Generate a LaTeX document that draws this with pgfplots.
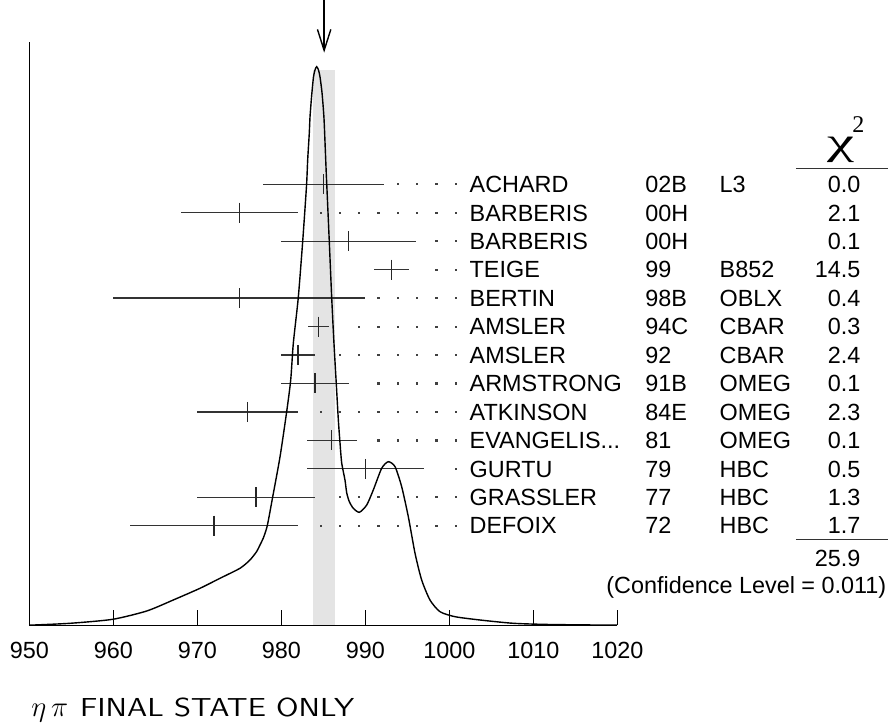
\documentclass[border=0pt]{standalone}
\usepackage{graphicx}
\usepackage{fontspec}
\setmainfont{Liberation Sans}
\newfontfamily\chifont{Liberation Serif}
\usepackage{pgfplots}
\pgfplotsset{compat=1.18}
\usetikzlibrary{arrows.meta}
\definecolor{band}{HTML}{E4E4E4}
\newcommand\lab{\fontsize{11.7}{14}\selectfont}
\begin{document}
\begin{tikzpicture}
\path[use as bounding box] (-14.65pt,-50.75pt) rectangle (429.35pt,312.75pt);
\begin{axis}[
  at={(0,0)}, anchor=south west,
  x=4.2pt, y=0.5pt,
  xmin=950, xmax=1020, ymin=0, ymax=583.5,
  enlargelimits=false, clip=false,
  axis lines=left,
  axis line style={-, line width=0.65pt},
  xtick={950,960,...,1020},
  ytick=\empty,
  tick align=inside,
  major tick length=7.5pt,
  xtick style={line width=0.6pt, black},
  /pgf/number format/assume math mode=true,
  /pgf/number format/1000 sep={},
  xticklabel style={font=\fontsize{11.7}{13}\selectfont, anchor=base, inner sep=0pt, yshift=-16.75pt},
]
% weighted average band
\addplot[fill=band, draw=none] coordinates {(983.8,0)(986.4,0)(986.4,555.5)(983.8,555.5)} -- cycle;

% dotted leaders
\addplot[only marks, mark=square*, mark size=0.3pt, black!75] coordinates {
(993.87,441.2)(996.17,441.2)(998.46,441.2)(1000.76,441.2)
(984.68,412.75)(986.98,412.75)(989.27,412.75)(991.57,412.75)(993.87,412.75)(996.17,412.75)(998.46,412.75)(1000.76,412.75)
(998.46,384.3)(1000.76,384.3)
(998.46,355.85)(1000.76,355.85)
(991.57,327.4)(993.87,327.4)(996.17,327.4)(998.46,327.4)(1000.76,327.4)
(989.27,298.95)(991.57,298.95)(993.87,298.95)(996.17,298.95)(998.46,298.95)(1000.76,298.95)
(986.98,270.5)(989.27,270.5)(991.57,270.5)(993.87,270.5)(996.17,270.5)(998.46,270.5)(1000.76,270.5)
(991.57,242.05)(993.87,242.05)(996.17,242.05)(998.46,242.05)(1000.76,242.05)
(984.68,213.6)(986.98,213.6)(989.27,213.6)(991.57,213.6)(993.87,213.6)(996.17,213.6)(998.46,213.6)(1000.76,213.6)
(991.57,185.15)(993.87,185.15)(996.17,185.15)(998.46,185.15)(1000.76,185.15)
(1000.76,156.7)
(986.98,128.25)(989.27,128.25)(991.57,128.25)(993.87,128.25)(996.17,128.25)(998.46,128.25)(1000.76,128.25)
(984.68,99.8)(986.98,99.8)(989.27,99.8)(991.57,99.8)(993.87,99.8)(996.17,99.8)(998.46,99.8)(1000.76,99.8)
};

% measurements
\addplot[only marks, mark=|, mark size=5pt, black!85, mark options={line width=0.65pt},
  error bars/.cd, x dir=both, x explicit, error mark=none,
  error bar style={line width=0.65pt, black!80}]
  table[x=m, y=y, x error=e] {
m y e
985.0 441.2 7.2
975.0 412.75 7.0
988.0 384.3 8.0
993.1 355.85 2.1
975.0 327.4 15.0
984.45 298.95 1.23
982.0 270.5 2.0
984.0 242.05 4.0
976.0 213.6 6.0
986.0 185.15 3.0
990.0 156.7 7.0
977.0 128.25 7.0
972.0 99.8 10.0
};

% ideogram curve
\addplot[line width=0.7pt, black, smooth, tension=0.4] coordinates {
(950.00,0.3)(954.85,2.2)(959.93,6.2)(963.98,14.5)(967.14,25.5)(970.32,37.2)
(972.70,47.2)(975.08,57.2)(976.27,65.5)(977.07,74)(977.46,80.5)(977.86,87.5)
(978.33,99.8)(978.98,128.8)(979.85,168.8)(980.64,213.8)(981.12,245.5)(981.43,282.2)
(982.02,327.8)(982.55,384.5)(983.00,439.5)(983.14,465.5)(983.33,492.2)(983.42,508.8)
(983.62,530.5)(983.83,548.5)(984.01,555.5)(984.21,558.8)(984.43,555.5)(984.61,548.5)
(984.85,532.5)(985.08,507.5)(985.24,475.5)(985.36,450.5)(985.42,439.5)(985.71,384.5)
(986.00,327.8)(986.27,282.2)(986.54,242.5)(986.79,205.5)(986.99,182.5)(987.19,162.5)
(987.58,145.5)(987.79,132.5)(988.10,123.8)(988.57,117.2)(989.29,113.2)(990.17,120.5)
(990.95,135.5)(991.95,157.2)(992.74,163.8)(993.54,158.8)(994.33,138.8)(995.12,108.8)
(995.92,72.2)(996.71,45.5)(997.70,25.5)(998.89,13.8)(1000.68,8.8)(1003.65,5.5)
(1007.62,2.2)(1011.99,1.0)(1019.96,0.3)
};

% average arrow
\addplot[line width=0.7pt, black, -{Straight Barb[length=10.5pt,width=6.7pt,line width=0.7pt]}]
  coordinates {(985.1,625.5)(985.1,572.8)};

% table header and rules
\node[font=\chifont\fontsize{19}{21}\selectfont, inner sep=0pt] at (axis cs:1046.6,476) {\scalebox{1.6}[1]{χ}};
\node[font=\chifont\fontsize{12}{14}\selectfont, inner sep=0pt] at (axis cs:1048.7,501) {2};
\addplot[line width=0.5pt, black!80] coordinates {(1041.27,457.2)(1052.22,457.2)};
\addplot[line width=0.5pt, black!80] coordinates {(1041.27,86.2)(1052.22,86.2)};

\tikzset{nm/.style={anchor=base west, inner sep=0pt, yshift=-4.15pt, font=\lab},
         cv/.style={anchor=base east, inner sep=0pt, yshift=-4.15pt, font=\lab}}
\node[nm] at (axis cs:1002.38,441.2) {ACHARD};
\node[nm] at (axis cs:1002.38,412.75) {BARBERIS};
\node[nm] at (axis cs:1002.38,384.3) {BARBERIS};
\node[nm] at (axis cs:1002.38,355.85) {TEIGE};
\node[nm] at (axis cs:1002.38,327.4) {BERTIN};
\node[nm] at (axis cs:1002.38,298.95) {AMSLER};
\node[nm] at (axis cs:1002.38,270.5) {AMSLER};
\node[nm] at (axis cs:1002.38,242.05) {ARMSTRONG};
\node[nm] at (axis cs:1002.38,213.6) {ATKINSON};
\node[nm] at (axis cs:1002.38,185.15) {EVANGELIS...};
\node[nm] at (axis cs:1002.38,156.7) {GURTU};
\node[nm] at (axis cs:1002.38,128.25) {GRASSLER};
\node[nm] at (axis cs:1002.38,99.8) {DEFOIX};

\node[nm] at (axis cs:1023.30,441.2) {02B};
\node[nm] at (axis cs:1023.30,412.75) {00H};
\node[nm] at (axis cs:1023.30,384.3) {00H};
\node[nm] at (axis cs:1023.30,355.85) {99};
\node[nm] at (axis cs:1023.30,327.4) {98B};
\node[nm] at (axis cs:1023.30,298.95) {94C};
\node[nm] at (axis cs:1023.30,270.5) {92};
\node[nm] at (axis cs:1023.30,242.05) {91B};
\node[nm] at (axis cs:1023.30,213.6) {84E};
\node[nm] at (axis cs:1023.30,185.15) {81};
\node[nm] at (axis cs:1023.30,156.7) {79};
\node[nm] at (axis cs:1023.30,128.25) {77};
\node[nm] at (axis cs:1023.30,99.8) {72};

\node[nm] at (axis cs:1032.14,441.2) {L3};
\node[nm] at (axis cs:1032.14,355.85) {B852};
\node[nm] at (axis cs:1032.14,327.4) {OBLX};
\node[nm] at (axis cs:1032.14,298.95) {CBAR};
\node[nm] at (axis cs:1032.14,270.5) {CBAR};
\node[nm] at (axis cs:1032.14,242.05) {OMEG};
\node[nm] at (axis cs:1032.14,213.6) {OMEG};
\node[nm] at (axis cs:1032.14,185.15) {OMEG};
\node[nm] at (axis cs:1032.14,156.7) {HBC};
\node[nm] at (axis cs:1032.14,128.25) {HBC};
\node[nm] at (axis cs:1032.14,99.8) {HBC};

\node[cv] at (axis cs:1048.98,441.2) {0.0};
\node[cv] at (axis cs:1048.98,412.75) {2.1};
\node[cv] at (axis cs:1048.98,384.3) {0.1};
\node[cv] at (axis cs:1048.98,355.85) {14.5};
\node[cv] at (axis cs:1048.98,327.4) {0.4};
\node[cv] at (axis cs:1048.98,298.95) {0.3};
\node[cv] at (axis cs:1048.98,270.5) {2.4};
\node[cv] at (axis cs:1048.98,242.05) {0.1};
\node[cv] at (axis cs:1048.98,213.6) {2.3};
\node[cv] at (axis cs:1048.98,185.15) {0.1};
\node[cv] at (axis cs:1048.98,156.7) {0.5};
\node[cv] at (axis cs:1048.98,128.25) {1.3};
\node[cv] at (axis cs:1048.98,99.8) {1.7};
\node[cv] at (axis cs:1048.98,67.2) {25.9};
\node[cv] at (axis cs:1052.07,40.5) {(Confidence Level = 0.011)};

\node[anchor=base west, inner sep=0pt] at (axis cs:950.2,-91.2)
  {\fontsize{14.5}{16}\selectfont$\eta\,\pi$};
\node[anchor=base west, inner sep=0pt] at (axis cs:956.0,-91.2)
  {\scalebox{1.2}[1]{\fontsize{13}{15}\selectfont\sffamily FINAL STATE ONLY}};
\end{axis}
\end{tikzpicture}
\end{document}
